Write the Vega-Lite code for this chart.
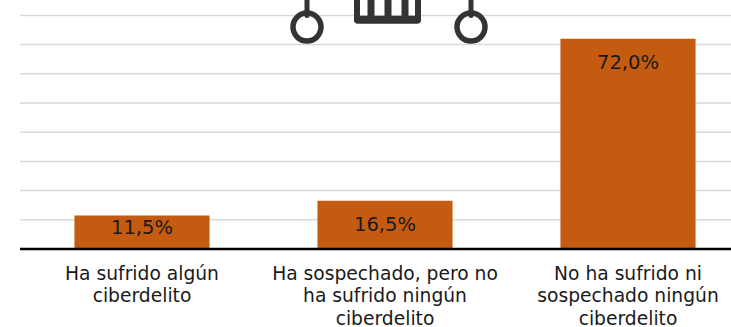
{"$schema":"https://vega.github.io/schema/vega-lite/v6.json","width":711,"height":249,"autosize":"none","padding":{"left":20,"top":0,"right":0,"bottom":78},"background":"white","config":{"view":{"stroke":null},"font":"DejaVu Sans"},"datasets":{"bars":[{"category":"Ha sufrido algún ciberdelito","value":11.5,"label":"11,5%"},{"category":"Ha sospechado, pero no ha sufrido ningún ciberdelito","value":16.5,"label":"16,5%"},{"category":"No ha sufrido ni sospechado ningún ciberdelito","value":72.0,"label":"72,0%"}],"grid":[{"g":10},{"g":20},{"g":30},{"g":40},{"g":50},{"g":60},{"g":70},{"g":80}],"icon":[{"a":287,"b":287,"u":85.3,"v":80,"w":5},{"a":451,"b":451,"u":85.3,"v":80,"w":5},{"a":337,"b":337,"u":85.3,"v":78.5,"w":6},{"a":351,"b":351,"u":85.3,"v":78.5,"w":7},{"a":368,"b":368,"u":85.3,"v":78.5,"w":7},{"a":385,"b":385,"u":85.3,"v":78.5,"w":7},{"a":398,"b":398,"u":85.3,"v":78.5,"w":6},{"a":338,"b":397,"u":78.5,"v":78.5,"w":8}],"rings":[{"a":287,"u":76},{"a":451,"u":76}]},"resolve":{"scale":{"x":"independent"}},"layer":[{"data":{"name":"grid"},"mark":{"type":"rule","color":"#d9d9d9","strokeWidth":1.5},"encoding":{"y":{"field":"g","type":"quantitative","scale":{"domain":[0,85.27],"nice":false},"axis":null}}},{"data":{"name":"bars"},"mark":{"type":"bar","color":"#C55A11"},"encoding":{"x":{"field":"category","type":"nominal","sort":null,"scale":{"domain":["Ha sufrido algún ciberdelito","Ha sospechado, pero no ha sufrido ningún ciberdelito","No ha sufrido ni sospechado ningún ciberdelito"],"range":[0.5,729.5],"paddingInner":0.444,"paddingOuter":0.222},"axis":{"title":null,"domain":false,"ticks":false,"labelAngle":0,"labelFontSize":18.7,"labelColor":"#1a1a1a","labelPadding":24,"labelLineHeight":22.5,"labelBaseline":"middle","labelLimit":0,"labelExpr":"datum.value=='Ha sufrido algún ciberdelito'?['Ha sufrido algún','ciberdelito']:datum.value=='Ha sospechado, pero no ha sufrido ningún ciberdelito'?['Ha sospechado, pero no','ha sufrido ningún','ciberdelito']:['No ha sufrido ni','sospechado ningún','ciberdelito']"}},"y":{"field":"value","type":"quantitative","axis":null}}},{"data":{"name":"bars"},"transform":[{"filter":"datum.value<12"}],"mark":{"type":"text","dy":13,"fontSize":19.5,"color":"#1a1a1a"},"encoding":{"x":{"field":"category","type":"nominal","sort":null,"scale":{"domain":["Ha sufrido algún ciberdelito","Ha sospechado, pero no ha sufrido ningún ciberdelito","No ha sufrido ni sospechado ningún ciberdelito"],"range":[0.5,729.5],"paddingInner":0.444,"paddingOuter":0.222},"axis":null},"y":{"field":"value","type":"quantitative"},"text":{"field":"label"}}},{"data":{"name":"bars"},"transform":[{"filter":"datum.value>=12"}],"mark":{"type":"text","dy":24.5,"fontSize":19.5,"color":"#1a1a1a"},"encoding":{"x":{"field":"category","type":"nominal","sort":null,"scale":{"domain":["Ha sufrido algún ciberdelito","Ha sospechado, pero no ha sufrido ningún ciberdelito","No ha sufrido ni sospechado ningún ciberdelito"],"range":[0.5,729.5],"paddingInner":0.444,"paddingOuter":0.222},"axis":null},"y":{"field":"value","type":"quantitative"},"text":{"field":"label"}}},{"data":{"values":[{"base":0}]},"mark":{"type":"rule","color":"#000000","strokeWidth":2.5},"encoding":{"y":{"field":"base","type":"quantitative"}}},{"data":{"name":"icon"},"mark":{"type":"rule","color":"#333333","strokeCap":"round"},"encoding":{"x":{"field":"a","type":"quantitative","scale":{"domain":[0,711],"nice":false},"axis":null},"x2":{"field":"b"},"y":{"field":"u","type":"quantitative"},"y2":{"field":"v"},"strokeWidth":{"field":"w","type":"quantitative","scale":null}}},{"data":{"name":"rings"},"mark":{"type":"point","shape":"circle","filled":false,"size":784,"strokeWidth":5.5,"color":"#333333","opacity":1},"encoding":{"x":{"field":"a","type":"quantitative","scale":{"domain":[0,711],"nice":false},"axis":null},"y":{"field":"u","type":"quantitative"}}}]}
